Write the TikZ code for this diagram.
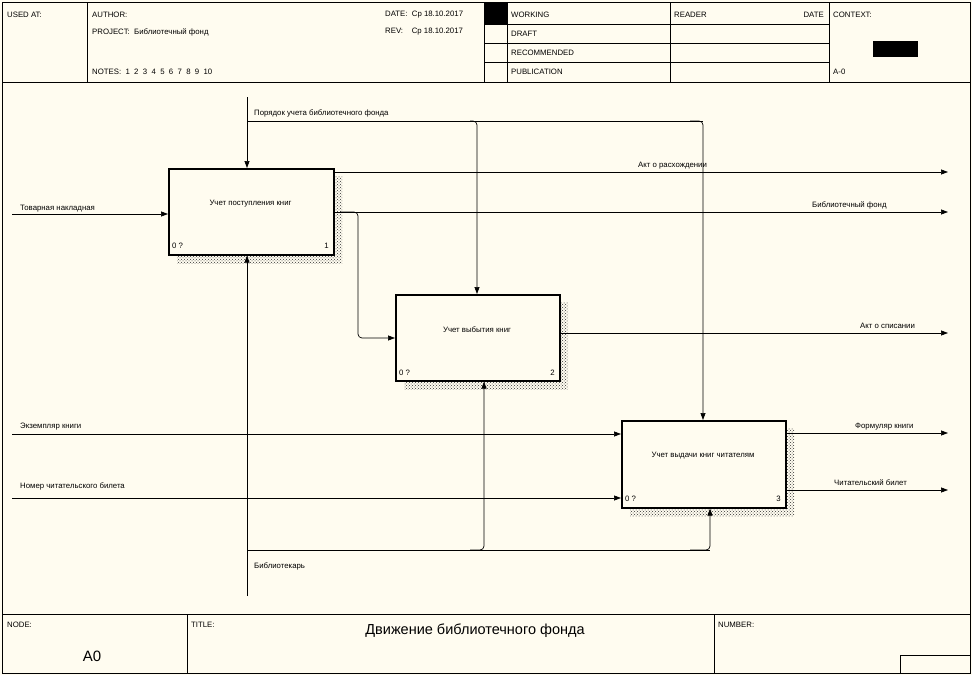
\documentclass[tikz,border=0pt]{standalone}
\usepackage{fontspec}
\setmainfont{Liberation Sans}
\usetikzlibrary{arrows.meta,patterns}
\definecolor{bg}{HTML}{FFFCF0}
\begin{document}
\begin{tikzpicture}[x=1pt,y=-1pt,
  t/.style={font=\fontsize{7.8}{9}\selectfont,inner sep=0,anchor=west},
  fr/.style={line width=0.7pt},
  box/.style={draw,line width=1.6pt,fill=bg,minimum width=0,inner sep=0},
  ar/.style={line width=0.7pt,-{Triangle[length=7pt,width=5pt]},rounded corners=4pt},
  ln/.style={line width=0.7pt,rounded corners=4pt}]
\fill[bg] (0,0) rectangle (972,675);
\useasboundingbox (0,0) rectangle (972,675);
% frame
\draw[fr] (2,2) rectangle (970,673);
\draw[fr] (2,82) -- (970,82);
\draw[fr] (87,2) -- (87,82) (484,2) -- (484,82) (507,2) -- (507,82) (670,2) -- (670,82) (829,2) -- (829,82);
\draw[fr] (484,24) -- (829,24) (484,43) -- (829,43) (484,62) -- (829,62);
\fill (484,2) rectangle (507,24);
\fill (873,41) rectangle (918,57);
\node[t] (ua) at (7,15) {USED AT:};
\node[t] (au) at (92,15) {AUTHOR:};
\node[t] (pr) at (92,32) {PROJECT:\ \ Библиотечный фонд};
\node[t] (no) at (92,72) {NOTES:\ \ 1\ \ 2\ \ 3\ \ 4\ \ 5\ \ 6\ \ 7\ \ 8\ \ 9\ \ 10};
\node[t] (da) at (385,15) {DATE:\ \ Ср 18.10.2017};
\node[t] (re) at (385,32) {REV:\ \ \ \ Ср 18.10.2017};
\node[t] (wo) at (511,15) {WORKING};
\node[t] (dr) at (511,34) {DRAFT};
\node[t] (rc) at (511,53) {RECOMMENDED};
\node[t] (pu) at (511,72) {PUBLICATION};
\node[t] (rd) at (674,15) {READER};
\node[t,anchor=east] (dt) at (824,15) {DATE};
\node[t] (cx) at (833,15) {CONTEXT:};
\node[t] (a0s) at (833,72) {A-0};
% footer
\draw[fr] (2,614) -- (970,614) (187,614) -- (187,673) (714,614) -- (714,673);
\draw[fr] (900,673) -- (900,655) -- (970,655);
\node[t] (nd) at (7,625) {NODE:};
\node[t] (ti) at (191,625) {TITLE:};
\node[t] (nu) at (718,625) {NUMBER:};
\node[font=\fontsize{14.5}{16}\selectfont,inner sep=0] (ttl) at (475,631) {Движение библиотечного фонда};
\node[font=\fontsize{15}{17}\selectfont,inner sep=0] (a0) at (92,656) {A0};
% shadows
\foreach \a/\b/\c/\d in {168/168/333/254, 395/294/559/380, 621/420/785/507}{
  \fill[pattern=crosshatch dots,pattern color=black!80] (\c,\b+8) rectangle (\c+9,\d+9);
  \fill[pattern=crosshatch dots,pattern color=black!80] (\a+9,\d) rectangle (\c,\d+9);
}
% boxes
\node[box,minimum width=165pt,minimum height=86pt,anchor=north west] (b1) at (168,168) {};
\node[box,minimum width=164pt,minimum height=86pt,anchor=north west] (b2) at (395,294) {};
\node[box,minimum width=164pt,minimum height=87pt,anchor=north west] (b3) at (621,420) {};
\node[t,anchor=center] (l1) at (250.5,204) {Учет поступления книг};
\node[t,anchor=center] (l2) at (477,330) {Учет выбытия книг};
\node[t,anchor=center] (l3) at (703,456) {Учет выдачи книг читателям};
\node[t] (q1) at (172,246) {0 ?};
\node[t,anchor=east] (n1) at (329,246) {1};
\node[t] (q2) at (399,373) {0 ?};
\node[t,anchor=east] (n2) at (555,373) {2};
\node[t] (q3) at (625,499) {0 ?};
\node[t,anchor=east] (n3) at (781,499) {3};
% coordinates
\coordinate (cT) at (247,97);
\coordinate (iA) at (12,214);
\coordinate (iB) at (12,434);
\coordinate (iC) at (12,498);
\coordinate (oA) at (948,172);
\coordinate (oB) at (948,212);
\coordinate (oC) at (948,333);
\coordinate (oD) at (948,433);
\coordinate (oE) at (948,490);
\coordinate (mB) at (247,596);
% controls
\draw[ar] (cT) -- (b1.north -| cT);
\draw[ln] (247,121) -- (703,121);
\draw[ar] (470,121) -- (477,121) -- (b2.north -| 477,0);
\draw[ar] (690,121) -- (703,121) -- (b3.north -| 703,0);
\node[t] (cl) at (254,113) {Порядок учета библиотечного фонда};
% inputs
\draw[ar] (iA) -- (b1.west |- iA);
\node[t] (il1) at (20,209) {Товарная накладная};
\draw[ar] (iB) -- (b3.west |- iB);
\node[t] (il2) at (20,427) {Экземпляр книги};
\draw[ar] (iC) -- (b3.west |- iC);
\node[t] (il3) at (20,486) {Номер читательского билета};
% outputs
\draw[ar] (b1.east |- oA) -- (oA);
\node[t] (ol1) at (638,166) {Акт о расхождении};
\draw[ar] (b1.east |- oB) -- (oB);
\node[t] (ol2) at (812,205) {Библиотечный фонд};
\draw[ar] (340,212) -- (358,212) -- (358,338) -- (b2.west |- 0,338);
\draw[ar] (b2.east |- oC) -- (oC);
\node[t] (ol3) at (860,326) {Акт о списании};
\draw[ar] (b3.east |- oD) -- (oD);
\node[t] (ol4) at (855,427) {Формуляр книги};
\draw[ar] (b3.east |- oE) -- (oE);
\node[t] (ol5) at (834,483) {Читательский билет};
% mechanism
\draw[ar] (mB) -- (b1.south -| mB);
\draw[ln] (247,550) -- (710,550);
\draw[ar] (470,550) -- (484,550) -- (b2.south -| 484,0);
\draw[ar] (690,550) -- (710,550) -- (b3.south -| 710,0);
\node[t] (ml) at (254,566) {Библиотекарь};
\end{tikzpicture}
\end{document}
